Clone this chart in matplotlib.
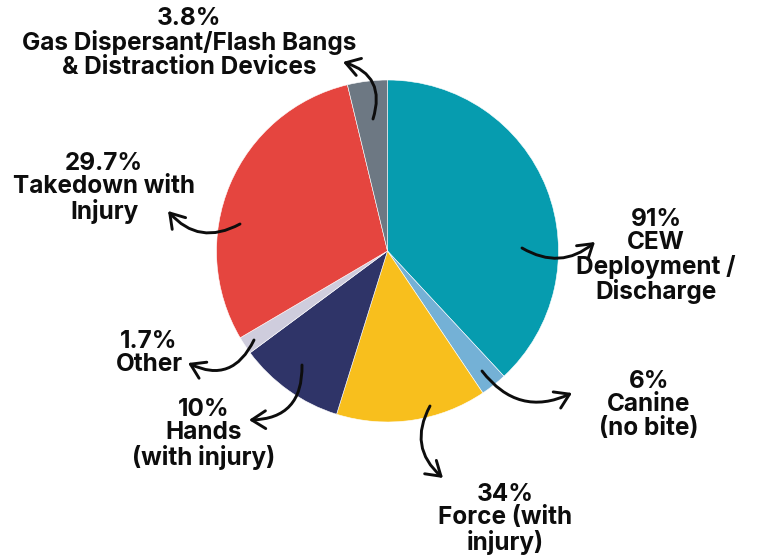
import matplotlib
matplotlib.use("Agg")
import matplotlib.pyplot as plt
from matplotlib.patches import FancyArrowPatch

# Use-of-force incidents by type (counts), clockwise from 12 o'clock
categories = [
    "CEW\nDeployment /\nDischarge",
    "Canine\n(no bite)",
    "Force (with\ninjury)",
    "Hands\n(with injury)",
    "Other",
    "Takedown with\nInjury",
    "Gas Dispersant/Flash Bangs\n& Distraction Devices",
]
counts = [91, 6, 34, 24, 4, 71, 9]
# the first three headline figures are the raw counts, the rest are shares of the total
headline_kind = ["count", "count", "count", "share", "share", "share", "share"]
colors = ["#069caf", "#74b1d6", "#f8bf1d", "#2f3468", "#cfcddd", "#e5453f", "#6d7883"]

W, H = 762, 556
fig = plt.figure(figsize=(W / 100, H / 100), dpi=100)
ax = fig.add_axes([0, 0, 1, 1])

cx, cy, r = 387.5, H - 251, 171
ax.pie(counts, colors=colors, startangle=90, counterclock=False,
       center=(cx, cy), radius=r, frame=True,
       wedgeprops=dict(edgecolor="white", linewidth=0.4))
ax.set_xlim(0, W)
ax.set_ylim(0, H)
ax.set_aspect("equal")
ax.axis("off")

total = sum(counts)


def headline(c, kind):
    if kind == "count":
        return f"{c}%"
    return f"{round(100 * c / total, 1):g}%"


# label anchors: centre x and centre y of the first line, pixels from the top
label_pos = [(656, 218), (649, 380), (505, 493), (204, 408),
             (149, 340), (104, 162), (189, 17)]

font = dict(family=["Inter", "DejaVu Sans"], weight="bold", fontsize=17.5,
            color="#0d0d0d")
for name, c, kind, (x, y) in zip(categories, counts, headline_kind, label_pos):
    text = headline(c, kind) + "\n" + name
    ax.text(x, H - (y - 10), text, ha="center", va="top", linespacing=1.02,
            **font)

# curved pointer arrows: tail (inside wedge) -> head (near label), and curvature
arrows = [
    ((522, 248), (595, 242), 0.35),
    ((482, 371), (572, 393), 0.4),
    ((430, 406), (443, 478), 0.4),
    ((302, 365), (249, 420), -0.5),
    ((254, 340), (188, 363), -0.5),
    ((240, 224), (168, 211), -0.4),
    ((373, 119), (343, 62), 0.5),
]
for (x0, y0), (x1, y1), rad in arrows:
    arr = FancyArrowPatch((x0, H - y0), (x1, H - y1),
                          connectionstyle=f"arc3,rad={rad}",
                          arrowstyle="->,head_length=0.5,head_width=0.32",
                          mutation_scale=20, lw=2.1, color="#0d0d0d",
                          shrinkA=0, shrinkB=0, capstyle="round",
                          joinstyle="round")
    ax.add_patch(arr)

fig.savefig("out.png", dpi=100, facecolor="white")
